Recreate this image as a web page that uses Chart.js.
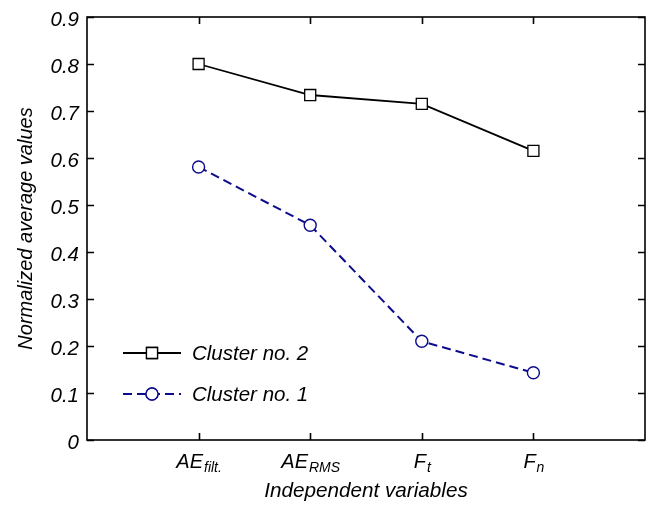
<!DOCTYPE html>
<html>
<head>
<meta charset="utf-8">
<script src="https://cdn.jsdelivr.net/npm/chart.js@4"></script>
<style>
  html, body { margin: 0; padding: 0; background: #fff; overflow: hidden; }
  canvas { display: block; }
</style>
</head>
<body>
<canvas id="cluster-chart" width="649" height="507"></canvas>
<script>
// variables on the x axis, "main_sub" gives the subscript
const categories = ['AE_filt.', 'AE_RMS', 'F_t', 'F_n'];
const cluster2 = [0.80, 0.734, 0.715, 0.615];
const cluster1 = [0.581, 0.457, 0.21, 0.143];
const yTicks = [0, 0.1, 0.2, 0.3, 0.4, 0.5, 0.6, 0.7, 0.8, 0.9];

const FONT = '"Liberation Sans", Arial, sans-serif';
const NAVY = '#0c0c8c';

const toPoints = (values) => values.map((v, i) => ({ x: i + 1, y: v }));

// box around the plot with ticks pointing inwards on all four sides
const framePlugin = {
  id: 'frame',
  afterDraw(chart) {
    const { ctx, chartArea: a, scales } = chart;
    ctx.save();
    ctx.strokeStyle = '#000';
    ctx.lineWidth = 1.6;
    ctx.strokeRect(a.left, a.top, a.right - a.left, a.bottom - a.top);
    ctx.beginPath();
    const len = 7;
    yTicks.forEach(v => {
      const y = Math.round(scales.y.getPixelForValue(v)) + 0.5;
      ctx.moveTo(a.left, y); ctx.lineTo(a.left + len, y);
      ctx.moveTo(a.right, y); ctx.lineTo(a.right - len, y);
    });
    categories.forEach((c, i) => {
      const x = Math.round(scales.x.getPixelForValue(i + 1)) + 0.5;
      ctx.moveTo(x, a.bottom); ctx.lineTo(x, a.bottom - len);
      ctx.moveTo(x, a.top); ctx.lineTo(x, a.top + len);
    });
    ctx.stroke();

    // category labels with subscripts
    ctx.fillStyle = '#000';
    ctx.textBaseline = 'alphabetic';
    categories.forEach((c, i) => {
      const [main, sub] = c.split('_');
      const x = scales.x.getPixelForValue(i + 1);
      ctx.font = 'italic 20px ' + FONT;
      const wMain = ctx.measureText(main).width;
      ctx.font = 'italic 14px ' + FONT;
      const wSub = ctx.measureText(sub).width;
      const start = x - (wMain + wSub) / 2;
      ctx.font = 'italic 20px ' + FONT;
      ctx.fillText(main, start, a.bottom + 28);
      ctx.font = 'italic 14px ' + FONT;
      ctx.fillText(sub, start + wMain + 1, a.bottom + 32);
    });
    ctx.restore();
  }
};

// legend drawn inside the plot, lower left
const insideLegend = {
  id: 'insideLegend',
  afterDatasetsDraw(chart) {
    const { ctx, chartArea: a } = chart;
    const rows = [chart.data.datasets[0], chart.data.datasets[1]];
    rows.forEach((ds, k) => {
      const y = 353 + k * 41;
      const x0 = a.left + 36, x1 = a.left + 94, xm = (x0 + x1) / 2;
      ctx.save();
      ctx.strokeStyle = ds.borderColor;
      ctx.lineWidth = ds.borderWidth;
      ctx.setLineDash(ds.borderDash || []);
      ctx.beginPath();
      ctx.moveTo(x0, y); ctx.lineTo(x1, y);
      ctx.stroke();
      ctx.setLineDash([]);
      ctx.fillStyle = '#fff';
      ctx.lineWidth = ds.pointBorderWidth;
      Chart.helpers.drawPoint(ctx, {
        pointStyle: ds.pointStyle, radius: ds.pointRadius, rotation: 0, borderWidth: ds.pointBorderWidth
      }, xm, y);
      ctx.fill();
      ctx.stroke();
      ctx.fillStyle = '#000';
      ctx.font = 'italic 20.5px ' + FONT;
      ctx.textBaseline = 'middle';
      ctx.fillText(ds.label, a.left + 105, y + 1);
      ctx.restore();
    });
  }
};

new Chart(document.getElementById('cluster-chart'), {
  type: 'line',
  data: {
    datasets: [
      {
        label: 'Cluster no. 2',
        data: toPoints(cluster2),
        borderColor: '#000',
        borderWidth: 1.8,
        pointStyle: 'rect',
        pointRadius: 7.8,
        pointBorderWidth: 1.3,
        pointBackgroundColor: '#fff',
        pointBorderColor: '#000',
      },
      {
        label: 'Cluster no. 1',
        data: toPoints(cluster1),
        borderColor: NAVY,
        borderWidth: 2,
        borderDash: [9, 5],
        pointStyle: 'circle',
        pointRadius: 6,
        pointBorderWidth: 1.4,
        pointBackgroundColor: '#fff',
        pointBorderColor: NAVY,
      },
    ],
  },
  options: {
    responsive: false,
    animation: false,
    layout: { autoPadding: false, padding: { top: 17, right: 4, left: 0, bottom: 0 } },
    plugins: { legend: { display: false }, tooltip: { enabled: false } },
    scales: {
      x: {
        type: 'linear',
        min: 0,
        max: 5,
        grid: { display: false, drawTicks: false },
        border: { display: false },
        ticks: { display: false },
        title: {
          display: true,
          text: 'Independent variables',
          color: '#000',
          font: { family: FONT, size: 20.7, style: 'italic' },
          padding: { top: 40, bottom: 3 },
        },
        afterFit(scale) { scale.height = 67; },
      },
      y: {
        min: 0,
        max: 0.9,
        grid: { display: false, drawTicks: false },
        border: { display: false },
        afterBuildTicks(scale) { scale.ticks = yTicks.map(v => ({ value: v })); },
        ticks: {
          color: '#000',
          padding: 8,
          labelOffset: 3,
          font: { family: FONT, size: 20.5, style: 'italic' },
          callback: v => (v === 0 ? '0' : v.toFixed(1)),
        },
        title: {
          display: true,
          text: 'Normalized average values',
          color: '#000',
          font: { family: FONT, size: 20, style: 'italic' },
          padding: { top: 14, bottom: 0 },
        },
        afterFit(scale) {
          scale.width = 87;
          scale.paddingTop = 0;
          scale.paddingBottom = 0;
        },
      },
    },
  },
  plugins: [framePlugin, insideLegend],
});
</script>
</body>
</html>
